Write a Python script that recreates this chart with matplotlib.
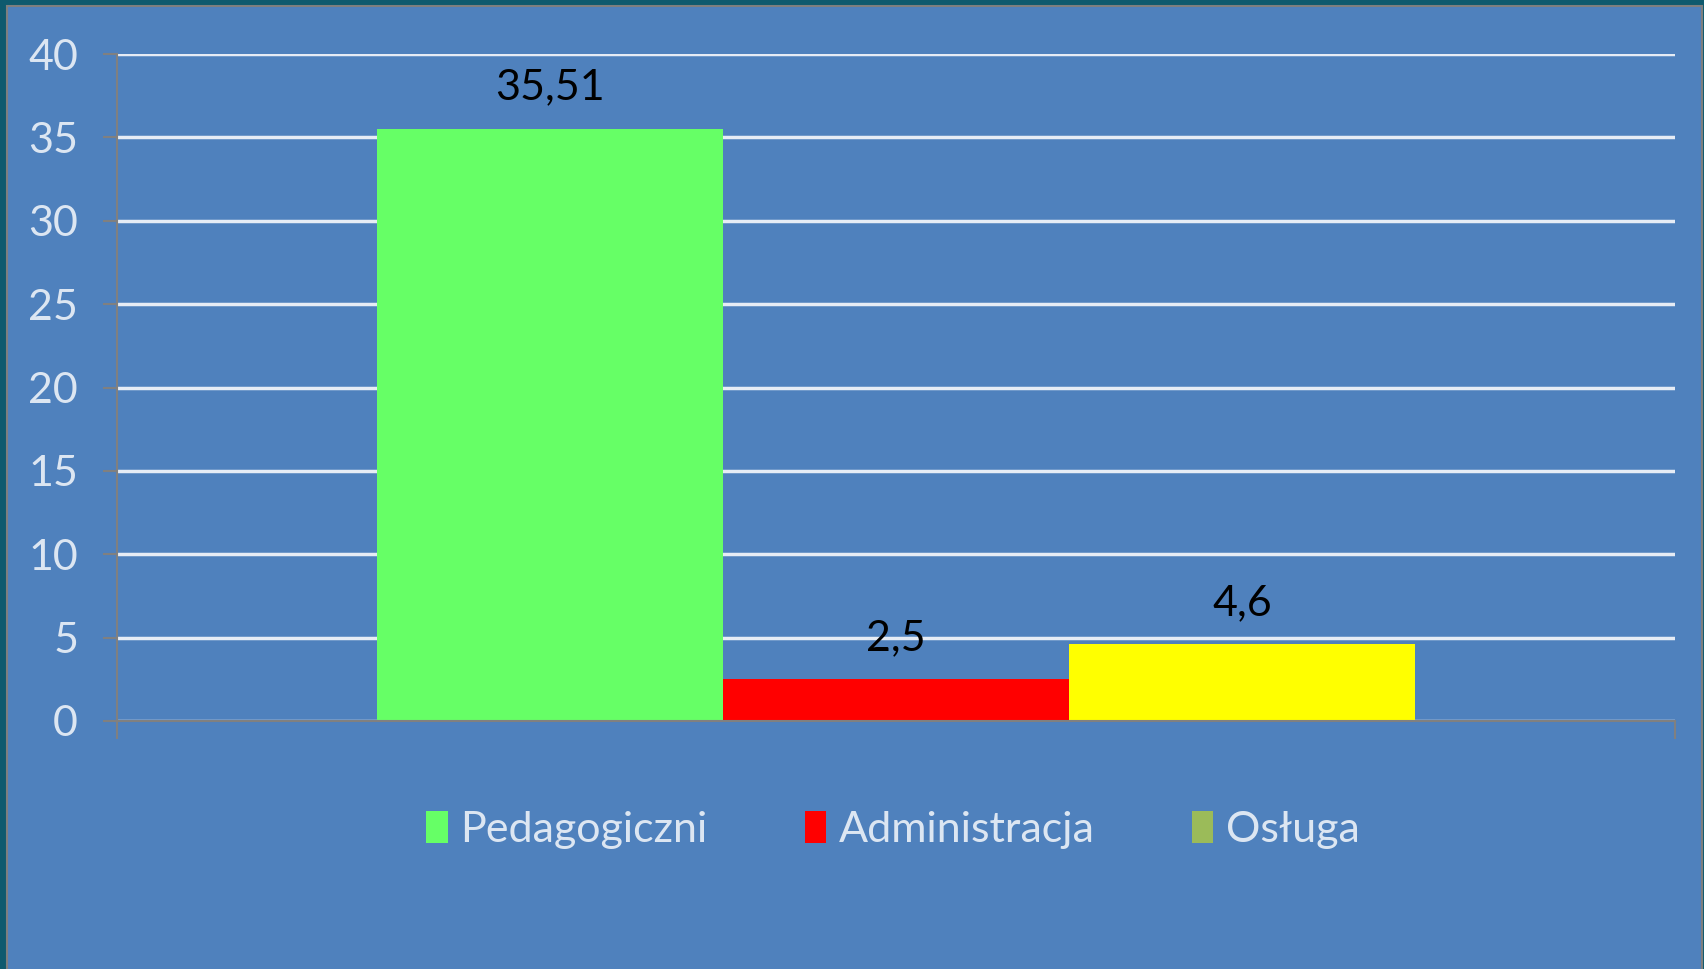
import matplotlib
matplotlib.use("Agg")
import matplotlib.pyplot as plt
from matplotlib.patches import Rectangle, Patch

categories = ["Pedagogiczni", "Administracja", "Osługa"]
values = [35.51, 2.5, 4.6]
value_labels = ["35,51", "2,5", "4,6"]
bar_colors = ["#66FF66", "#FF0000", "#FFFF00"]
legend_colors = ["#66FF66", "#FF0000", "#9BBB59"]
yticks = [0, 5, 10, 15, 20, 25, 30, 35, 40]

plt.rcParams['font.family'] = ['Liberation Sans Narrow', 'Lato', 'DejaVu Sans']

W, H = 1704, 969
FS = 31
fig = plt.figure(figsize=(W / 100, H / 100), dpi=100)
fig.patch.set_facecolor("#0F5A6E")
panel = Rectangle((7 / W, -0.01), (1702 - 7) / W, 1.01 - 6 / H, transform=fig.transFigure,
                  facecolor="#4F81BD", edgecolor="#7F7F7F", linewidth=1.5, zorder=-5)
fig.patches.append(panel)

ax = fig.add_axes([117 / W, 1 - 721 / H, (1675 - 117) / W, (721 - 54) / H])
ax.set_zorder(2)
ax.set_facecolor("none")

bw = 1 / 3
xs = [-bw + i * bw for i in range(len(values))]
ax.bar(xs, values, width=bw, color=bar_colors, zorder=3)
for x, v, lab in zip(xs, values, value_labels):
    ax.annotate(lab, (x, v), xytext=(0, 16), textcoords="offset points",
                ha="center", va="bottom", fontsize=FS, color="black", zorder=4)

ax.set_xlim(-0.75, 0.75)
ax.set_ylim(0, 40)
ax.set_yticks(yticks)
ax.set_yticklabels([str(t) for t in yticks])
ax.yaxis.grid(True, color="#E6ECF5", linewidth=2.5, zorder=1)
ax.set_axisbelow(True)
ax.tick_params(axis="y", length=10, width=1.5, color="#808080", labelcolor="#DCE6F2",
               labelsize=FS, pad=18)
ax.set_xticks([-0.75, 0.75])
ax.set_xticklabels([])
ax.tick_params(axis="x", length=13, width=1.5, color="#808080")
for s in ["top", "right"]:
    ax.spines[s].set_visible(False)
for s in ["left", "bottom"]:
    ax.spines[s].set_color("#808080")
    ax.spines[s].set_linewidth(1.5)
    ax.spines[s].set_zorder(4)

handles = [Patch(facecolor=c, edgecolor="none") for c in legend_colors]
leg = fig.legend(handles, categories, loc="center", bbox_to_anchor=(893 / W, 1 - 830 / H),
                 ncol=3, frameon=False, fontsize=FS, labelcolor="#DCE6F2",
                 handlelength=0.5, handleheight=0.75, handletextpad=0.3, columnspacing=2.25)

fig.savefig("out.png", dpi=100, facecolor=fig.get_facecolor())
